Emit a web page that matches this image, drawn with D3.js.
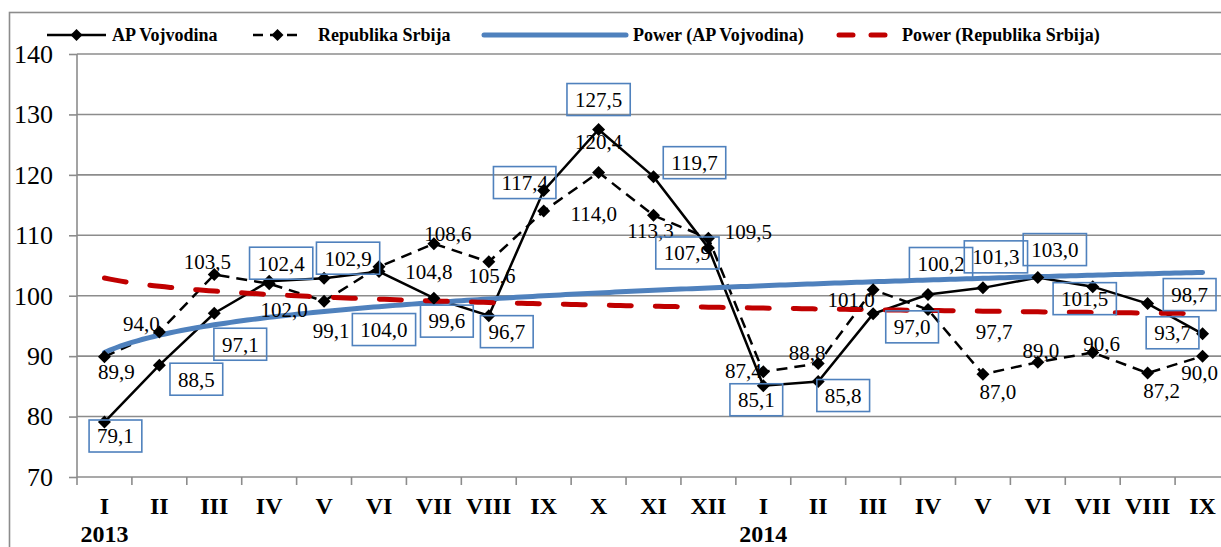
<!DOCTYPE html>
<html>
<head>
<meta charset="utf-8">
<script src="https://cdn.jsdelivr.net/npm/d3@7"></script>
<style>
  body { margin: 0; background: #fff; }
  .grid line { stroke: #8c8c8c; stroke-width: 1.6; }
  .axis path, .axis line { stroke: #8c8c8c; stroke-width: 1.6; }
</style>
</head>
<body>
<div id="chart"></div>
<script>
// months on the x axis (Jan 2013 .. Sep 2014)
const months = ['I','II','III','IV','V','VI','VII','VIII','IX','X','XI','XII',
                'I','II','III','IV','V','VI','VII','VIII','IX'];
const yearStarts = [0, 12];
const yearNames = ['2013', '2014'];
const yTicks = [70, 80, 90, 100, 110, 120, 130, 140];

const vojvodina = [79.1, 88.5, 97.1, 102.4, 102.9, 104.0, 99.6, 96.7, 117.4, 127.5, 119.7, 107.9,
                   85.1, 85.8, 97.0, 100.2, 101.3, 103.0, 101.5, 98.7, 93.7];
const srbija = [89.9, 94.0, 103.5, 102.0, 99.1, 104.8, 108.6, 105.6, 114.0, 120.4, 113.3, 109.5,
                87.4, 88.8, 101.0, 97.7, 87.0, 89.0, 90.6, 87.2, 90.0];

const seriesNames = ['AP Vojvodina', 'Republika Srbija', 'Power (AP Vojvodina)', 'Power (Republika Srbija)'];

// where each data label sits relative to its point (like Excel's hand-moved labels)
const vojvodinaLabelOffsets = [[11,14],[37,14],[26,31],[12,-18],[24,-20],[5,58],[13,23],[18,16],[-19,-8],[0,-30],[41,-14],[-21,5],
                               [-7,14],[25,14],[39,13],[13,-31],[13,-31],[17,-28],[-8,12],[42,-9],[-30,-1]];
const srbijaLabelOffsets = [[12,15],[-18,-8],[-7,-13],[15,26],[7,29],[50,5],[14,-10],[3,14],[50,3],[0,-31],[-3,15],[40,-7],
                            [-20,-1],[-11,-11],[-22,10],[66,22],[15,17],[3,-12],[9,-9],[14,18],[-3,17]];

const BLUE = '#4f81bd';
const RED = '#c00000';
const FONT = "'Liberation Serif', 'Times New Roman', serif";

class IndexChart {
  constructor(selector) {
    this.width = 1221;
    this.height = 547;
    this.margin = { top: 54, right: -9, bottom: 70, left: 77 };
    this.svg = d3.select(selector).append('svg')
      .attr('width', this.width)
      .attr('height', this.height)
      .style('font-family', FONT);
  }

  setScales() {
    const m = this.margin;
    this.x = d3.scalePoint()
      .domain(d3.range(months.length))
      .range([m.left, this.width - m.right])
      .padding(0.5);
    this.y = d3.scaleLinear()
      .domain([70, 140])
      .range([this.height - m.bottom, m.top]);
  }

  // Excel style power trendline: linear regression in log-log space
  powerFit(vals) {
    const lx = vals.map((d, i) => Math.log(i + 1));
    const ly = vals.map((d) => Math.log(d));
    const mx = d3.mean(lx), my = d3.mean(ly);
    const b = d3.sum(lx, (d, i) => (d - mx) * (ly[i] - my)) / d3.sum(lx, (d) => (d - mx) * (d - mx));
    const a = Math.exp(my - b * mx);
    return (t) => a * Math.pow(t, b);
  }

  drawFrame() {
    this.svg.append('rect')
      .attr('x', 9.5).attr('y', 12.5)
      .attr('width', 1400).attr('height', 700)
      .attr('fill', 'none')
      .attr('stroke', '#8c8c8c')
      .attr('stroke-width', 1.6);
  }

  drawAxes() {
    const { x, y } = this;
    const bottom = y(70);
    const step = x.step();

    this.svg.append('g').attr('class', 'grid')
      .selectAll('line')
      .data(yTicks.filter((d) => d > 70))
      .join('line')
      .attr('x1', x.range()[0]).attr('x2', this.width + 20)
      .attr('y1', (d) => y(d)).attr('y2', (d) => y(d));

    // y axis
    const yAxis = this.svg.append('g').attr('class', 'axis')
      .attr('transform', `translate(${x.range()[0]},0)`)
      .call(d3.axisLeft(y).tickValues(yTicks).tickSize(8).tickPadding(16).tickFormat(d3.format('d')));
    yAxis.attr('font-family', null).attr('font-size', null);
    yAxis.selectAll('text')
      .attr('fill', '#000')
      .style('font-size', '26px')
      .style('font-family', FONT);
    yAxis.select('.domain').attr('d', `M0,${bottom}V${y(140)}`);

    // x axis with ticks between categories
    const xg = this.svg.append('g').attr('class', 'axis');
    xg.append('line')
      .attr('x1', x.range()[0]).attr('x2', this.width + 20)
      .attr('y1', bottom).attr('y2', bottom);
    xg.selectAll('line.tick')
      .data(d3.range(months.length + 1))
      .join('line')
      .attr('class', 'tick')
      .attr('x1', (d) => x.range()[0] + d * step)
      .attr('x2', (d) => x.range()[0] + d * step)
      .attr('y1', bottom).attr('y2', bottom + 8);

    xg.selectAll('text.month')
      .data(months)
      .join('text')
      .attr('class', 'month')
      .attr('x', (d, i) => x(i))
      .attr('y', bottom + 37)
      .attr('text-anchor', 'middle')
      .style('font-size', '24px')
      .style('font-weight', 'bold')
      .style('font-family', FONT)
      .text((d) => d);

    xg.selectAll('text.year')
      .data(yearStarts)
      .join('text')
      .attr('class', 'year')
      .attr('x', (d) => x(d))
      .attr('y', bottom + 65)
      .attr('text-anchor', 'middle')
      .style('font-size', '24px')
      .style('font-weight', 'bold')
      .style('font-family', FONT)
      .text((d, i) => yearNames[i]);
  }

  diamond(r) {
    return `M0,${-r}L${r},0L0,${r}L${-r},0Z`;
  }

  drawSeries() {
    const { x, y } = this;
    const line = d3.line().x((d, i) => x(i)).y((d) => y(d));

    this.svg.append('path')
      .attr('d', line(vojvodina))
      .attr('fill', 'none').attr('stroke', '#000').attr('stroke-width', 2.5);

    this.svg.append('path')
      .attr('d', line(srbija))
      .attr('fill', 'none').attr('stroke', '#000').attr('stroke-width', 2.5)
      .attr('stroke-dasharray', '11 7');
  }

  drawTrends() {
    const { x, y } = this;
    const step = x.step();
    const ts = d3.range(1, months.length + 0.001, 0.1);
    const trendLine = (fn) => d3.line()
      .x((t) => x(0) + (t - 1) * step)
      .y((t) => y(fn(t)))(ts);

    this.svg.append('path')
      .attr('d', trendLine(this.powerFit(vojvodina)))
      .attr('fill', 'none').attr('stroke', BLUE).attr('stroke-width', 5)
      .attr('stroke-linecap', 'round');

    this.svg.append('path')
      .attr('d', trendLine(this.powerFit(srbija)))
      .attr('fill', 'none').attr('stroke', RED).attr('stroke-width', 5)
      .attr('stroke-linecap', 'round')
      .attr('stroke-dasharray', '22 24');
  }

  drawMarkers() {
    const { x, y } = this;
    [vojvodina, srbija].forEach((vals) => {
      this.svg.append('g')
        .selectAll('path')
        .data(vals)
        .join('path')
        .attr('transform', (d, i) => `translate(${x(i)},${y(d)})`)
        .attr('d', this.diamond(6.5))
        .attr('fill', '#000');
    });
  }

  drawLabels() {
    const { x, y } = this;
    const fmt = (v) => d3.format('.1f')(v).replace('.', ',');

    // Republika Srbija: plain labels
    this.svg.append('g')
      .selectAll('text')
      .data(srbija)
      .join('text')
      .attr('x', (d, i) => x(i) + srbijaLabelOffsets[i][0])
      .attr('y', (d, i) => y(d) + srbijaLabelOffsets[i][1])
      .attr('dy', '0.35em')
      .attr('text-anchor', 'middle')
      .style('font-size', '21px')
      .style('font-family', FONT)
      .text(fmt);

    // AP Vojvodina: boxed labels
    const boxes = this.svg.append('g')
      .selectAll('g')
      .data(vojvodina)
      .join('g')
      .attr('transform', (d, i) =>
        `translate(${x(i) + vojvodinaLabelOffsets[i][0]},${y(d) + vojvodinaLabelOffsets[i][1]})`);

    boxes.append('text')
      .attr('dy', '0.35em')
      .attr('text-anchor', 'middle')
      .style('font-size', '21px')
      .style('font-family', FONT)
      .text(fmt);

    boxes.each(function () {
      const g = d3.select(this);
      const w = g.select('text').node().getComputedTextLength() + 16;
      g.insert('rect', 'text')
        .attr('x', -w / 2).attr('y', -16)
        .attr('width', w).attr('height', 32)
        .attr('fill', 'none')
        .attr('stroke', BLUE)
        .attr('stroke-width', 1.6);
    });
  }

  drawLegend() {
    const ly = 35;
    const legend = this.svg.append('g').attr('class', 'legend');
    const items = [
      { x1: 47, x2: 106, text: 112, stroke: '#000', w: 2.5, dash: null, marker: true },
      { x1: 253, x2: 302, text: 318, stroke: '#000', w: 2.5, dash: '10 7', marker: true },
      { x1: 484, x2: 626, text: 633, stroke: BLUE, w: 5, dash: null, marker: false },
      { x1: 839, x2: 888, text: 902, stroke: RED, w: 5, dash: '14 18', marker: false },
    ];

    items.forEach((it, i) => {
      legend.append('line')
        .attr('x1', it.x1).attr('x2', it.x2)
        .attr('y1', ly).attr('y2', ly)
        .attr('stroke', it.stroke).attr('stroke-width', it.w)
        .attr('stroke-linecap', it.marker ? 'butt' : 'round')
        .attr('stroke-dasharray', it.dash);
      if (it.marker) {
        legend.append('path')
          .attr('transform', `translate(${(it.x1 + it.x2) / 2},${ly})`)
          .attr('d', this.diamond(6))
          .attr('fill', '#000');
      }
      legend.append('text')
        .attr('x', it.text).attr('y', ly)
        .attr('dy', '0.35em')
        .style('font-size', '18px')
        .style('font-weight', 'bold')
        .style('font-family', FONT)
        .text(seriesNames[i]);
    });
  }

  draw() {
    this.setScales();
    this.drawFrame();
    this.drawAxes();
    this.drawSeries();
    this.drawTrends();
    this.drawMarkers();
    this.drawLabels();
    this.drawLegend();
    return this;
  }
}

new IndexChart('#chart').draw();
</script>
</body>
</html>
